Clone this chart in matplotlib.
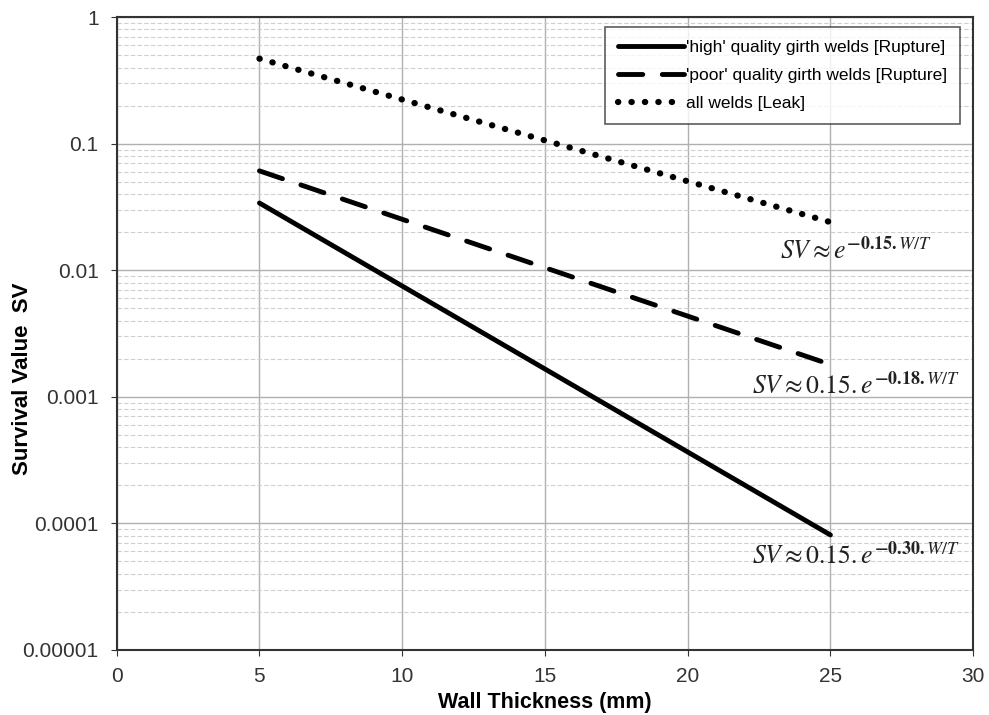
import numpy as np
import matplotlib.pyplot as plt
from matplotlib.ticker import FixedLocator, LogLocator, FuncFormatter, NullFormatter

plt.rcParams['font.family'] = ['Liberation Sans', 'DejaVu Sans']
plt.rcParams['mathtext.fontset'] = 'stix'

# Data (endpoints of straight lines on the log scale)
wall = [5, 25]
sv_high = [0.034, 8.1e-5]
sv_poor = [0.061, 0.0018]
sv_leak = [0.47, 0.024]

labels = ["'high' quality girth welds [Rupture]",
          "'poor' quality girth welds [Rupture]",
          "all welds [Leak]"]
formulas = [r'$SV\approx e^{\mathbf{-0.15.}W/T}$',
            r'$SV\approx 0.15.e^{\mathbf{-0.18.}W/T}$',
            r'$SV\approx 0.15.e^{\mathbf{-0.30.}W/T}$']
formula_y = [0.0145, 0.00124, 5.6e-5]

fig = plt.figure(figsize=(9.89, 7.15), dpi=100)
ax = fig.add_axes([0.118, 0.091, 0.866, 0.885])

ax.plot(wall, sv_high, color='black', lw=3.5, solid_capstyle='round', label=labels[0])
ax.plot(wall, sv_poor, color='black', lw=3.5, dashes=(5, 4), dash_capstyle='round',
        label=labels[1])
ax.plot(wall, sv_leak, color='black', lw=4.5, dashes=(0.05, 2.1), dash_capstyle='round',
        label=labels[2])

ax.set_yscale('log')
ax.set_xlim(0, 30)
ax.set_ylim(1e-5, 1)
ax.set_xticks(np.arange(0, 31, 5))
ax.yaxis.set_major_locator(FixedLocator([1e-5, 1e-4, 1e-3, 1e-2, 1e-1, 1]))
ax.yaxis.set_minor_locator(LogLocator(base=10, subs=np.arange(2, 10)))
ax.yaxis.set_minor_formatter(NullFormatter())
ax.yaxis.set_major_formatter(FuncFormatter(lambda v, p: ('%.5f' % v).rstrip('0').rstrip('.')))
ax.tick_params(axis='both', labelsize=15, colors='#333333', length=4)
ax.tick_params(axis='y', pad=9)
ax.tick_params(axis='x', pad=8)
ax.tick_params(axis='y', which='minor', length=0)

ax.grid(True, which='major', color='#b0b0b0', lw=1.0)
ax.grid(True, which='minor', axis='y', color='#cfcfcf', lw=0.8, ls=(0, (4, 2)))
for s in ax.spines.values():
    s.set_linewidth(1.5)
    s.set_color('#333333')

ax.set_xlabel('Wall Thickness (mm)', fontsize=15.5, fontweight='bold')
ax.set_ylabel('Survival Value  SV', fontsize=16, fontweight='bold')
ax.xaxis.set_label_coords(0.5, -0.066)
ax.yaxis.set_label_coords(-0.098, 0.428)

for f, y in zip(formulas, formula_y):
    ax.text(25.9, y, f, fontsize=18.5, ha='center', va='center', color='#222222')

leg = ax.legend(loc='upper right', fontsize=12.5, frameon=True, fancybox=False,
                handlelength=3.8, handletextpad=0.1, borderpad=0.75, labelspacing=0.75,
                borderaxespad=0, bbox_to_anchor=(0.985, 0.985))
leg.get_frame().set_edgecolor('#333333')
leg.get_frame().set_linewidth(1.2)

fig.savefig('out.png', dpi=100)
